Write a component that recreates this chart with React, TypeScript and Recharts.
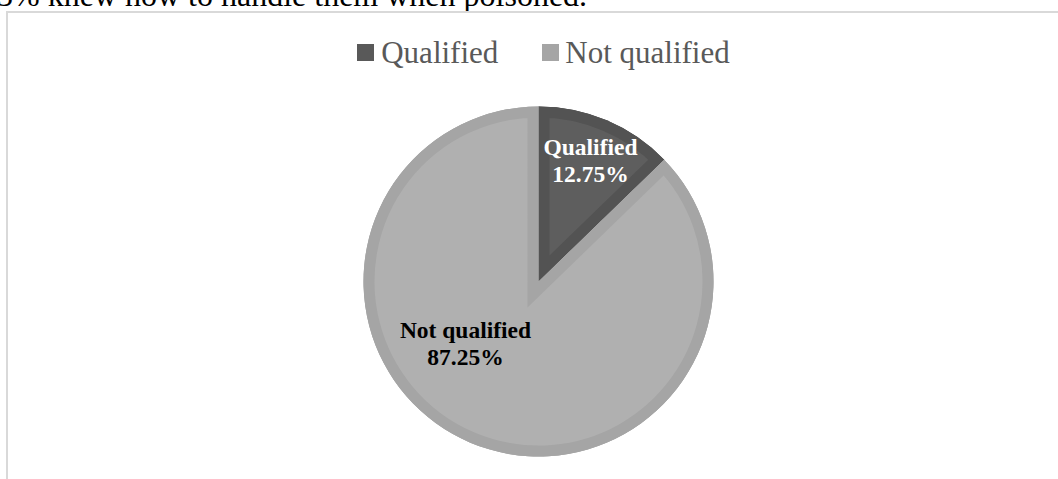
import { PieChart, Pie, Cell, Sector, Legend } from "recharts";

const categories = ["Qualified", "Not qualified"];
const shares = [12.75, 87.25];
const shareLabels = ["12.75%", "87.25%"];

const FILLS = ["#5e5e5e", "#b0b0b0"];
const BORDERS = ["#535353", "#a5a5a5"];
const SWATCHES = ["#595959", "#a5a5a5"];
const LABEL_COLORS = ["#ffffff", "#000000"];
// label anchor relative to pie centre (first baseline)
const LABEL_OFFSETS = [
    { dx: 52, dy: -127 },
    { dx: -73, dy: 56 },
];

const SERIF = '"Liberation Serif", "Times New Roman", serif';
const BORDER_W = 11;

const data = categories.map((name, i) => ({ name, value: shares[i] }));

// draws the slice again with an inner border (stroke clipped to the slice) plus its label
function SliceWithLabel(props: any) {
    const { cx, cy, outerRadius, startAngle, endAngle, index } = props;
    const clipId = `slice-clip-${index}`;
    const off = LABEL_OFFSETS[index];
    const lx = cx + off.dx;
    return (
        <g>
            <defs>
                <clipPath id={clipId}>
                    <Sector cx={cx} cy={cy} innerRadius={0} outerRadius={outerRadius}
                        startAngle={startAngle} endAngle={endAngle} />
                </clipPath>
            </defs>
            <Sector cx={cx} cy={cy} innerRadius={0} outerRadius={outerRadius}
                startAngle={startAngle} endAngle={endAngle}
                fill={FILLS[index]} stroke={BORDERS[index]} strokeWidth={BORDER_W * 2}
                strokeLinejoin="miter" clipPath={`url(#${clipId})`} />
            <text x={lx} y={cy + off.dy} textAnchor="middle" fill={LABEL_COLORS[index]}
                fontFamily={SERIF} fontSize={23.5} fontWeight="bold">
                <tspan x={lx}>{categories[index]}</tspan>
                <tspan x={lx} dy={27}>{shareLabels[index]}</tspan>
            </text>
        </g>
    );
}

function renderLegend() {
    return (
        <div style={{
            display: "flex", justifyContent: "center", alignItems: "center",
            fontFamily: SERIF, fontSize: 31, lineHeight: "36px", color: "#595959",
        }}>
            {categories.map((c, i) => (
                <span key={c} style={{ display: "inline-flex", alignItems: "center", marginLeft: i ? 44 : 0 }}>
                    <span style={{ display: "inline-block", width: 17, height: 17, background: SWATCHES[i], marginRight: i ? 6 : 7 }} />
                    {c}
                </span>
            ))}
        </div>
    );
}

export default function App() {
    return (
        <div style={{ position: "absolute", left: 0, top: 0, width: 1058, height: 479, overflow: "hidden", background: "#fff" }}>
            <div style={{
                position: "absolute", left: -3, top: -21.3, fontFamily: SERIF, fontSize: 32,
                lineHeight: "32px", whiteSpace: "nowrap", color: "#000",
            }}>
                3% knew how to handle them when poisoned.
            </div>
            <div style={{
                position: "absolute", left: 6, top: 11, width: 1200, height: 600,
                borderTop: "2px solid #d9d9d9", borderLeft: "2px solid #d9d9d9",
            }} />
            <div style={{ position: "absolute", left: 0, top: 0 }}>
                <PieChart width={1058} height={479} margin={{ top: 0, right: 0, bottom: 0, left: 0 }}>
                    <Legend layout="horizontal" verticalAlign="middle" align="center" content={renderLegend}
                        wrapperStyle={{ top: 34.5, left: 29, width: 1029, margin: 0 }} />
                    <Pie data={data} dataKey="value" nameKey="name" cx={538.5} cy={281.5}
                        innerRadius={0} outerRadius={175} startAngle={90} endAngle={-270}
                        stroke="none" isAnimationActive={false} labelLine={false} label={SliceWithLabel}>
                        {data.map((item, index) => (
                            <Cell key={`cell-${index}`} fill={FILLS[index]} />
                        ))}
                    </Pie>
                </PieChart>
            </div>
        </div>
    );
}
